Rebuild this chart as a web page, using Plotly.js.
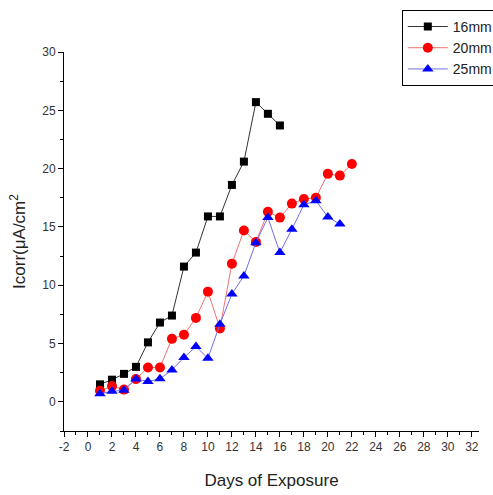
<!DOCTYPE html>
<html>
<head>
<meta charset="utf-8">
<script src="https://cdn.plot.ly/plotly-3.0.1.min.js"></script>
<style>html,body{margin:0;padding:0;background:#fff;}#chart{width:493px;height:495px;}</style>
</head>
<body>
<div id="chart"></div>
<script>
const days16 = [1,2,3,4,5,6,7,8,9,10,11,12,13,14,15,16];
const icorr16 = [1.5,1.9,2.4,3.0,5.1,6.8,7.4,11.6,12.8,15.9,15.9,18.6,20.6,25.7,24.7,23.7];
const days20 = [1,2,3,4,5,6,7,8,9,10,11,12,13,14,15,16,17,18,19,20,21,22];
const icorr20 = [0.95,1.35,1.05,1.95,2.95,2.95,5.4,5.75,7.2,9.45,6.3,11.85,14.7,13.7,16.3,15.8,17.0,17.4,17.5,19.55,19.4,20.4];
const days25 = [1,2,3,4,5,6,7,8,9,10,11,12,13,14,15,16,17,18,19,20,21];
const icorr25 = [0.7,0.9,1.0,1.95,1.75,1.97,2.74,3.8,4.74,3.74,6.65,9.25,10.8,13.65,15.8,12.8,14.8,16.9,17.25,15.85,15.25];
const seriesNames = ["16mm","20mm","25mm"];
const xTickVals = [-2,0,2,4,6,8,10,12,14,16,18,20,22,24,26,28,30,32];
const xTickText = ["-2","0","2","4","6","8","10","12","14","16","18","20","22","24","26","28","30","32"];

const traces = [
  {x: days16, y: icorr16, name: seriesNames[0], mode: "lines+markers",
   line: {color: "#333333", width: 1}, marker: {symbol: "square", size: 8, color: "#000000"}},
  {x: days20, y: icorr20, name: seriesNames[1], mode: "lines+markers",
   line: {color: "#f07070", width: 1}, marker: {symbol: "circle", size: 10, color: "#ff0000"}},
  {x: days25, y: icorr25, name: seriesNames[2], mode: "lines+markers",
   line: {color: "#6f6fe8", width: 1}, marker: {symbol: "triangle-up", size: 10, color: "#0000ff"}}
];

const tickFont = {family: "Liberation Sans, Arial, sans-serif", size: 12, color: "#333333"};
const layout = {
  width: 493, height: 495,
  margin: {l: 64, r: 14, t: 52, b: 64, autoexpand: false},
  paper_bgcolor: "#ffffff", plot_bgcolor: "#ffffff",
  showlegend: true,
  legend: {x: 0.814, y: 1.111, xanchor: "left", yanchor: "top", xref: "paper", yref: "paper",
           bordercolor: "#000000", borderwidth: 1, bgcolor: "#ffffff",
           font: {family: "Liberation Sans, Arial, sans-serif", size: 14, color: "#222"},
           tracegroupgap: 0, itemwidth: 40},
  xaxis: {range: [-2, 32.6], tickmode: "array", tickvals: xTickVals, ticktext: xTickText,
          ticks: "outside", ticklen: 5, tickcolor: "#000",
          showline: true, linecolor: "#000", linewidth: 1, showgrid: false, zeroline: false,
          tickfont: tickFont,
          minor: {dtick: 1, tick0: 0, ticklen: 3, tickcolor: "#000", ticks: "outside", showgrid: false},
          title: {text: "Days of Exposure", font: {family: "Liberation Sans, Arial, sans-serif", size: 17, color: "#222"}, standoff: 20}},
  yaxis: {range: [-2.5, 30], dtick: 5, tick0: 0, ticks: "outside", ticklen: 5, tickcolor: "#000",
          showline: true, linecolor: "#000", linewidth: 1, showgrid: false, zeroline: false,
          tickfont: tickFont,
          minor: {dtick: 2.5, tick0: 0, ticklen: 3, tickcolor: "#000", ticks: "outside", showgrid: false},
          title: {text: "Icorr(μA/cm<sup>2</sup>", font: {family: "Liberation Sans, Arial, sans-serif", size: 17, color: "#222"}, standoff: 12}}
};

Plotly.newPlot("chart", traces, layout, {displayModeBar: false, staticPlot: true});
</script>
</body>
</html>
